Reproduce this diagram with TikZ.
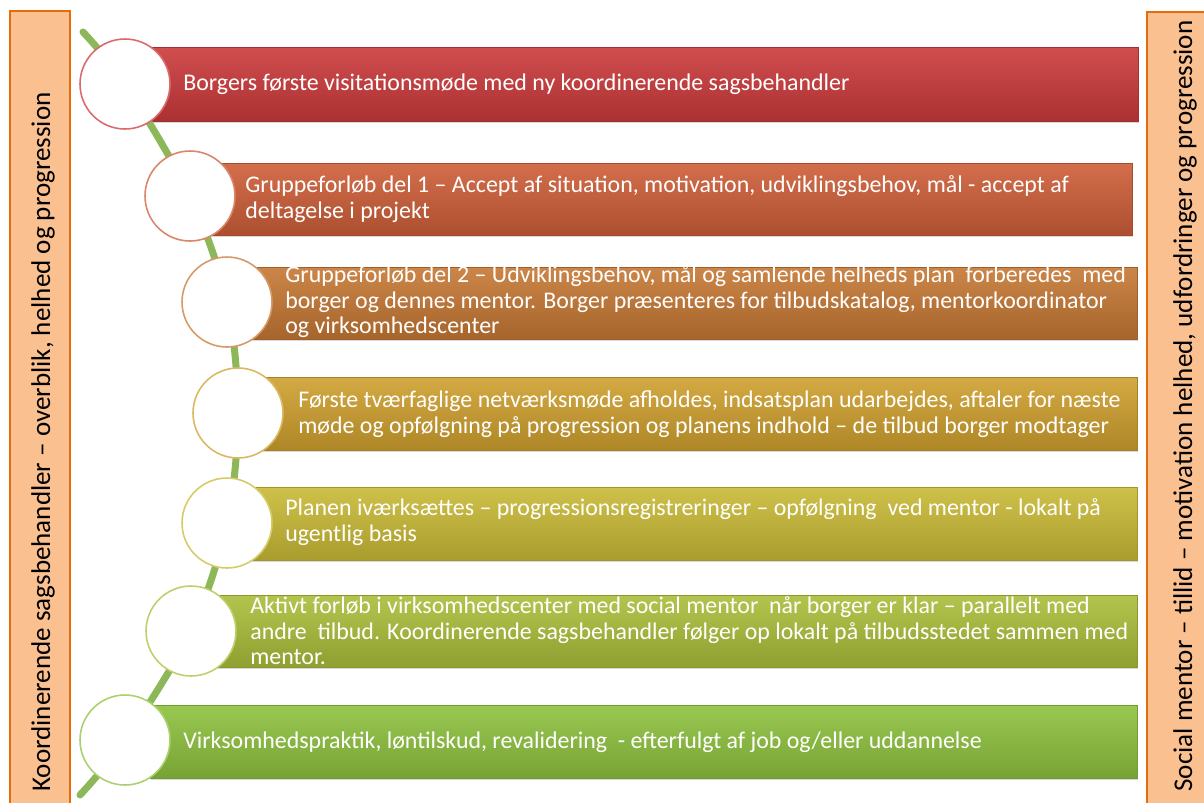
\documentclass[tikz,border=0pt]{standalone}
\usepackage{fontspec}
\setmainfont{Carlito}
\usepackage{tikz}
\usetikzlibrary{shadows}
\definecolor{stepA}{HTML}{CC3A3B}
\definecolor{stepB}{HTML}{CE5E38}
\definecolor{stepC}{HTML}{C67834}
\definecolor{stepD}{HTML}{CFA02E}
\definecolor{stepE}{HTML}{C9BA36}
\definecolor{stepF}{HTML}{ABBE3A}
\definecolor{stepG}{HTML}{8EC23E}
\definecolor{spinegreen}{HTML}{8DB859}
\definecolor{sideorange}{HTML}{FAC090}
\definecolor{sideedge}{HTML}{E46C0A}
\tikzset{
    x=0.02cm, y=-0.02cm,
    bar/.style={top color=#1!90!white, middle color=#1, bottom color=#1!84!black,
        draw=#1!80!black, line width=0.3pt,
        drop shadow={opacity=0.3, shadow xshift=0.6pt, shadow yshift=-1.4pt}},
    stage/.style={circle, fill=white, draw=#1!75!white, line width=0.9pt,
        minimum size=1.8cm, inner sep=0pt},
    caption/.style={anchor=west, align=left, text=white, inner sep=0pt,
        font=\fontsize{13.6}{14.5}\selectfont},
    spine/.style={line width=4pt, spinegreen, line cap=round},
    sidebar/.style={fill=sideorange, draw=sideedge, line width=1.1pt},
    sidetext/.style={rotate=90, font=\fontsize{15.4}{17}\selectfont},
}

\begin{document}
\begin{tikzpicture}
        \useasboundingbox (0,0) rectangle (1204,802);
        \clip (0,0) rectangle (1204,802);
        % side bars
        \filldraw[sidebar] (10,11) rectangle (70,812);
        \filldraw[sidebar] (1147,12) rectangle (1215,812);
        \node[sidetext] (lefttext) at (43,442) {Koordinerende sagsbehandler -- overblik, helhed og progression};
        \node[sidetext] (righttext) at (1185,406) {Social mentor -- tillid -- motivation helhed, udfordringer og progression};
        % centres of the stage circles
        \foreach \i/\x/\y in {1/125/84, 2/190/196, 3/227/302, 4/238/413, 5/227/523, 6/191/631, 7/125/740}
            \coordinate (p\i) at (\x,\y);
        \coordinate (top) at (83,32);
        \coordinate (bottom) at (80,795);
        % bars
        \foreach \xa/\ya/\xb/\yb/\c in {150/47/1138/121/stepA, 200/163/1132/235/stepB,
                250/267/1137/339/stepC, 260/377/1137/450/stepD, 250/487/1137/560/stepE,
                215/595/1137/667/stepF, 150/705/1137/778/stepG}
            \path[bar=\c] (\xa,\ya) rectangle (\xb,\yb);
        \draw[spine] plot[smooth, tension=0.55] coordinates {(top) (p1) (p2) (p3) (p4) (p5) (p6) (p7) (bottom)};
        \foreach \i/\c in {1/stepA, 2/stepB, 3/stepC, 4/stepD, 5/stepE, 6/stepF, 7/stepG}
            \node[stage=\c] (c\i) at (p\i) {};
        % texts
        \node[caption] (t1) at (183,84) {Borgers første visitationsmøde med ny koordinerende sagsbehandler};
        \node[caption] (t2) at (245,199) {Gruppeforløb del 1 -- Accept af situation, motivation, udviklingsbehov, mål - accept af\\deltagelse i projekt};
        \node[caption] (t3) at (285,302) {Gruppeforløb del 2 -- Udviklingsbehov, mål og samlende helheds plan \ forberedes \ med\\borger og dennes mentor. Borger præsenteres for tilbudskatalog, mentorkoordinator\\og virksomhedscenter};
        \node[caption] (t4) at (298,414) {Første tværfaglige netværksmøde afholdes, indsatsplan udarbejdes, aftaler for næste\\møde og opfølgning på progression og planens indhold -- de tilbud borger modtager};
        \node[caption] (t5) at (285,522) {Planen iværksættes -- progressionsregistreringer -- opfølgning \ ved mentor - lokalt på\\ugentlig basis};
        \node[caption] (t6) at (250,631) {Aktivt forløb i virksomhedscenter med social mentor \ når borger er klar -- parallelt med\\andre \ tilbud. Koordinerende sagsbehandler følger op lokalt på tilbudsstedet sammen med\\mentor.};
        \node[caption] (t7) at (183,742) {Virksomhedspraktik, løntilskud, revalidering \ - efterfulgt af job og/eller uddannelse};
    \end{tikzpicture}
\end{document}
